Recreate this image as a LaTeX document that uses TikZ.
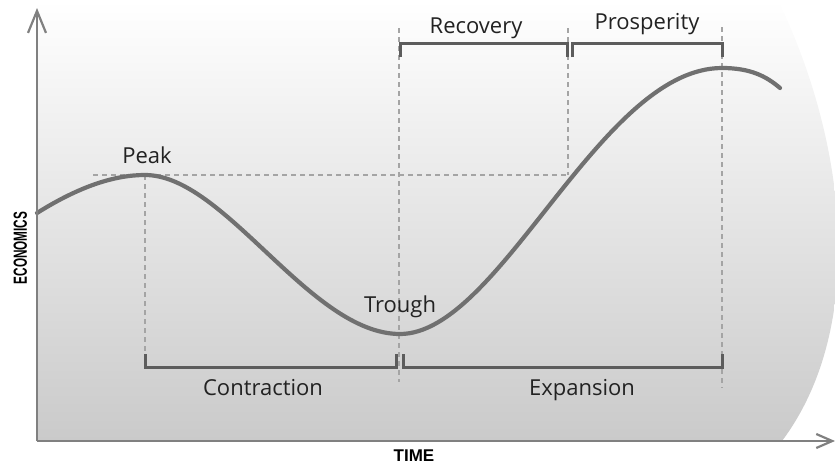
\documentclass[tikz,border=0pt]{standalone}
\usepackage{fontspec}
\setmainfont{Open Sans}
\newfontfamily\axisfont{Liberation Sans}
\usetikzlibrary{arrows.meta}
\definecolor{axisgray}{HTML}{808080}
\definecolor{curvegray}{HTML}{707070}
\definecolor{guidegray}{HTML}{A4A4A4}
\definecolor{brkgray}{HTML}{5C5C5C}
\definecolor{txtgray}{HTML}{222222}
\definecolor{fillgray}{HTML}{CACACA}
\begin{document}
\begin{tikzpicture}[x=1pt,y=-1pt,
  axis/.style={draw=axisgray,line width=2.2pt},
  curveline/.style={draw=curvegray,line width=4.2pt},
  guide/.style={draw=guidegray,line width=1.8pt,dash pattern=on 5pt off 4pt},
  brk/.style={draw=brkgray,line width=3pt},
  lbl/.style={text=txtgray,font=\fontsize{22}{24}\selectfont,inner sep=0pt,anchor=base},
  axlbl/.style={text=black,font=\axisfont\bfseries\fontsize{17}{18}\selectfont,inner sep=0pt,anchor=base}]
\useasboundingbox (0,0) rectangle (835,463);

% background shading
\shade[top color=white,bottom color=fillgray]
  (37,0) -- (778,0) .. controls (850,150) and (865,330) .. (782,441) -- (37,441) -- cycle;

% key coordinates
\coordinate (origin) at (37,441);
\coordinate (ytop) at (37,8);
\coordinate (xend) at (835,441);
\coordinate (pk) at (145,175);
\coordinate (tr) at (400,334);
\coordinate (pk2) at (722,68);
\coordinate (cross) at (568,175);

% guides (dashed)
\draw[guide] (93,175) -- (cross);
\draw[guide] (pk) -- (145,356);
\draw[guide] (399,28) -- (399,382);
\draw[guide] (568,28) -- (cross);
\draw[guide] (722,27) -- (722,388);

% curve
\draw[curveline,line cap=round]
  (37,213) .. controls (80,186) and (115,175) .. (pk)
  .. controls (225,175) and (310,334) .. (tr)
  .. controls (500,334) and (600,68) .. (pk2)
  .. controls (750,68) and (766,76) .. (780,88);

% axes
\draw[axis,-{Straight Barb[length=22pt,width=18pt]}] (origin) -- (ytop);
\draw[axis,-{Straight Barb[length=16pt,width=14pt]}] (origin) -- (xend);

% brackets
\coordinate (c1) at (145,367); \coordinate (c2) at (396,367);
\coordinate (e1) at (403,367); \coordinate (e2) at (722,367);
\coordinate (r1) at (400,43);  \coordinate (r2) at (567,43);
\coordinate (p1) at (572,43);  \coordinate (p2) at (722,43);
\draw[brk] (145,354) -- (c1) -- (c2) -- (396,354);
\draw[brk] (403,354) -- (e1) -- (e2) -- (722,354);
\draw[brk] (400,57) -- (r1) -- (r2) -- (567,57);
\draw[brk] (572,57) -- (p1) -- (p2) -- (722,57);

% labels
\node[lbl] (peak) at (147,163) {Peak};
\node[lbl] (trough) at (400,312) {Trough};
\node[lbl] (recov) at (476,33) {Recovery};
\node[lbl] (prosp) at (647,29) {Prosperity};
\node[lbl] (contr) at (263,395) {Contraction};
\node[lbl] (expan) at (582,395) {Expansion};
\node[axlbl] (time) at (414,461) {TIME};
\node[axlbl,rotate=90,font=\axisfont\bfseries\fontsize{19}{20}\selectfont] (econ) at (27,248) {\scalebox{0.62}[1]{ECONOMICS}};
\end{tikzpicture}
\end{document}
